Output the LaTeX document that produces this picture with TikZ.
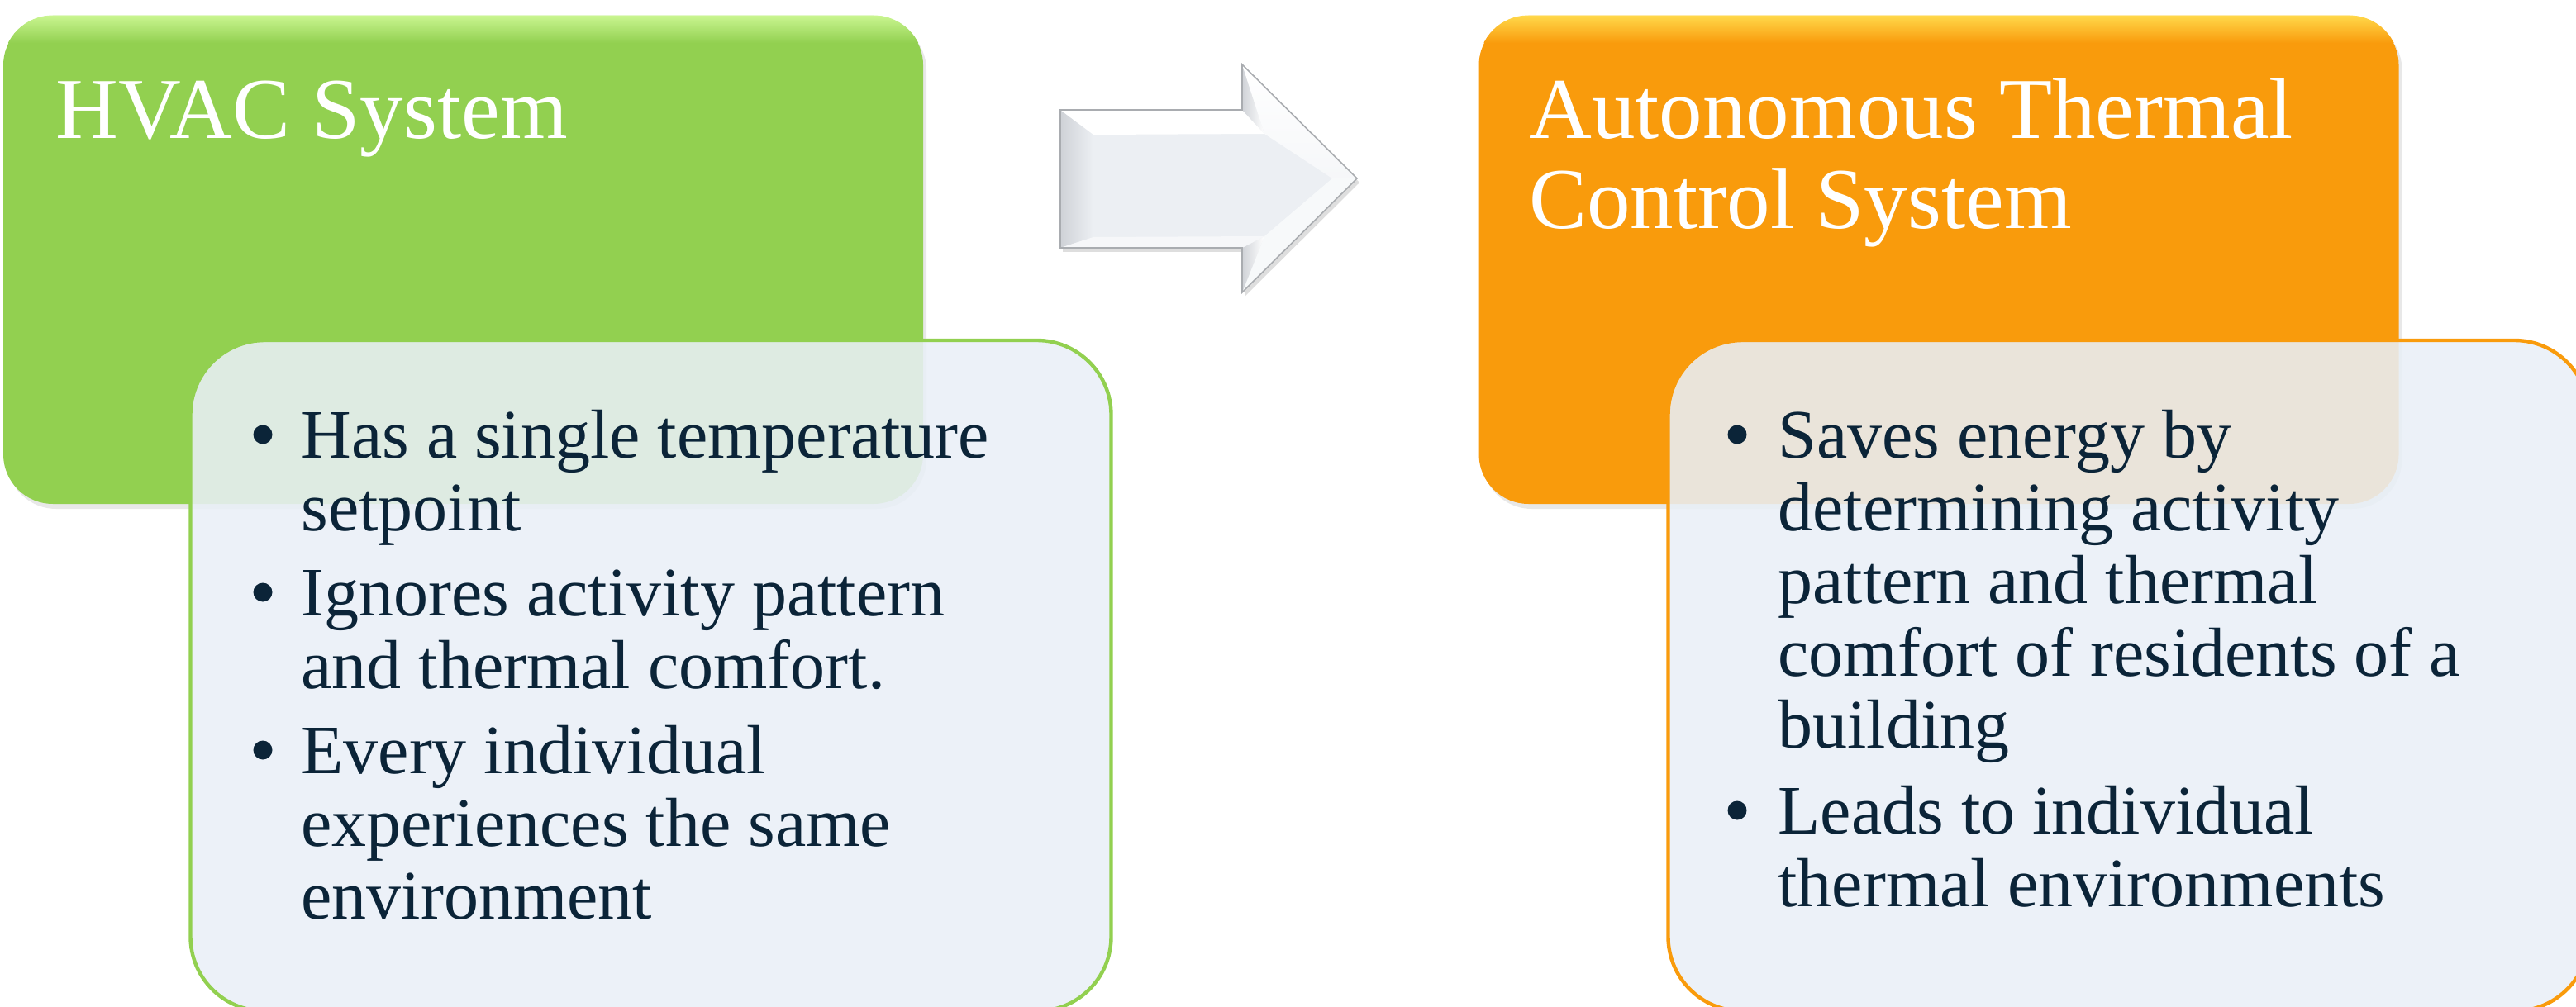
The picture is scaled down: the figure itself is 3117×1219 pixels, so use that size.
\documentclass[tikz,border=0pt]{standalone}
\usepackage{fontspec}
\setmainfont{Liberation Serif}
\usetikzlibrary{shadows}
\definecolor{hvacgreen}{HTML}{92D050}
\definecolor{hvactop}{HTML}{C9F590}
\definecolor{atcorange}{HTML}{F99B0C}
\definecolor{atctop}{HTML}{FFD84A}
\definecolor{panelfill}{HTML}{E9EFF7}
\definecolor{bodyink}{HTML}{0B2438}
\definecolor{arrowline}{HTML}{A9ACB0}
\definecolor{arrowface}{HTML}{ECEFF3}
\definecolor{arrowdark}{HTML}{CFD2D7}
\tikzset{
  titlebox/.style={rounded corners=30pt, inner sep=0pt, minimum width=556.5pt,
    minimum height=295.5pt, draw=none,
    drop shadow={shadow xshift=2pt, shadow yshift=-3pt, opacity=0.18}},
  panelbox/.style={rounded corners=45pt, inner sep=0pt, minimum width=557pt,
    minimum height=406pt, fill=panelfill, fill opacity=0.88, line width=2.2pt},
  titletext/.style={anchor=base west, inner sep=0pt, text=white,
    font=\fontsize{52.5}{54.5}\selectfont},
  bodytext/.style={anchor=base west, inner sep=0pt, text=bodyink,
    font=\fontsize{42}{44}\selectfont},
  bulletdot/.style={circle, fill=bodyink, inner sep=0pt, minimum size=11.5pt},
}
\newcommand{\itemlines}[1]{\parbox[t]{700pt}{\raggedright #1}}
\begin{document}
\begin{tikzpicture}[x=0.5pt, y=-0.5pt]
\useasboundingbox (0,0) rectangle (3117,1219);
\clip (0,0) rectangle (3117,1219);

% ---------- left title box ----------
\node[titlebox, fill=hvacgreen] (hvacbox) at (560.5,314.5) {};
\begin{scope}
  \clip[rounded corners=30pt] (hvacbox.north west) rectangle (hvacbox.south east);
  \shade[top color=hvactop, bottom color=hvacgreen] (4,19) rectangle (1117,52);
\end{scope}
\node[titletext] (hvactitle) at (67,168) {HVAC System};

% ---------- right title box ----------
\node[titlebox, fill=atcorange] (atcbox) at (2346,314.5) {};
\begin{scope}
  \clip[rounded corners=30pt] (atcbox.north west) rectangle (atcbox.south east);
  \shade[top color=atctop, bottom color=atcorange] (1789,19) rectangle (2903,52);
\end{scope}
\node[titletext] (atctitle) at (1850,168) {\itemlines{Autonomous Thermal\\Control System}};

% ---------- arrow ----------
\coordinate (A) at (1283,133);
\coordinate (B) at (1503,133);
\coordinate (C) at (1503,78);
\coordinate (D) at (1642,216);
\coordinate (E) at (1503,354);
\coordinate (F) at (1503,300);
\coordinate (G) at (1283,300);
\coordinate (a) at (1323,163);
\coordinate (b) at (1530,162);
\coordinate (d) at (1612,216);
\coordinate (f) at (1530,286);
\coordinate (g) at (1323,287);
\fill[black, opacity=0.13] ([shift={(3,5)}]A) -- ([shift={(3,5)}]B) -- ([shift={(3,5)}]C)
  -- ([shift={(3,5)}]D) -- ([shift={(3,5)}]E) -- ([shift={(3,5)}]F) -- ([shift={(3,5)}]G) -- cycle;
\fill[arrowface] (A) -- (B) -- (C) -- (D) -- (E) -- (F) -- (G) -- cycle;
\shade[left color=arrowdark, right color=arrowface] (A) -- (a) -- (g) -- (G) -- cycle;
\fill[white] (A) -- (B) -- (b) -- (a) -- cycle;
\shade[left color=arrowdark, right color=white] (B) -- (C) -- (b) -- cycle;
\shade[top color=white, bottom color=arrowface!50!white] (C) -- (D) -- (d) -- (b) -- cycle;
\fill[white!60!arrowface] (D) -- (E) -- (f) -- (d) -- cycle;
\shade[left color=arrowdark, right color=white] (E) -- (F) -- (f) -- cycle;
\fill[white!50!arrowface] (G) -- (F) -- (f) -- (g) -- cycle;
\draw[arrowline, line width=0.8pt, line join=miter] (A) -- (B) -- (C) -- (D) -- (E) -- (F) -- (G) -- cycle;

% ---------- text panels ----------
\node[panelbox, draw=hvacgreen] (hvacpanel) at (787.5,818) {};
\node[panelbox, draw=atcorange] (atcpanel) at (2575.5,818) {};

% left bullets
\node[bulletdot] (hb1) at (318,526) {};
\node[bodytext] (ht1) at (364,554) {\itemlines{Has a single temperature\\setpoint}};
\node[bulletdot] (hb2) at (318,717) {};
\node[bodytext] (ht2) at (364,745) {\itemlines{Ignores activity pattern\\and thermal comfort.}};
\node[bulletdot] (hb3) at (318,908) {};
\node[bodytext] (ht3) at (364,936) {\itemlines{Every individual\\experiences the same\\environment}};

% right bullets
\node[bulletdot] (ab1) at (2102,526) {};
\node[bodytext] (at1) at (2151,554) {\itemlines{Saves energy by\\determining activity\\pattern and thermal\\comfort of residents of a\\building}};
\node[bulletdot] (ab2) at (2102,981) {};
\node[bodytext] (at2) at (2151,1009) {\itemlines{Leads to individual\\thermal environments}};
\end{tikzpicture}
\end{document}
